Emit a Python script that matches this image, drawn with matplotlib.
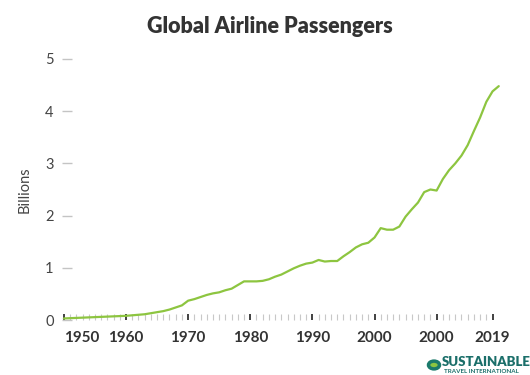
import matplotlib.pyplot as plt
from matplotlib.patches import Circle

plt.rcParams['font.family'] = ['Lato', 'DejaVu Sans']

# passengers per year, billions
years = list(range(1950, 2021))
passengers = [0.03, 0.035, 0.04, 0.045, 0.05, 0.055, 0.06, 0.065, 0.07, 0.075,
              0.08, 0.09, 0.10, 0.11, 0.13, 0.15, 0.17, 0.20, 0.24, 0.28,
              0.37, 0.40, 0.44, 0.48, 0.51, 0.53, 0.57, 0.60, 0.67, 0.74,
              0.74, 0.74, 0.75, 0.78, 0.83, 0.87, 0.93, 0.99, 1.04, 1.08,
              1.10, 1.15, 1.12, 1.13, 1.13, 1.22, 1.30, 1.39, 1.45, 1.48,
              1.58, 1.76, 1.73, 1.73, 1.79, 1.98, 2.12, 2.25, 2.45, 2.50,
              2.48, 2.70, 2.87, 3.00, 3.15, 3.35, 3.62, 3.88, 4.18, 4.38,
              4.48]

major_ticks = [1950, 1960, 1970, 1980, 1990, 2000, 2010, 2019]
major_labels = ['1950', '1960', '1970', '1980', '1990', '2000', '2000', '2019']
minor_ticks = list(range(1950, 2020))
y_ticks = [0, 1, 2, 3, 4, 5]

fig = plt.figure(figsize=(5.3, 3.75), dpi=100)
ax = fig.add_axes([62 / 530, 55 / 375, 438 / 530, 261 / 375])

ax.plot(years, passengers, color='#8dc540', lw=1.6, solid_capstyle='round',
        zorder=3)

ax.set_xlim(1949.7, 2020.2)
ax.set_ylim(0, 5)

for s in ax.spines.values():
    s.set_visible(False)

ax.set_xticks(major_ticks)
ax.set_xticklabels(major_labels)
ax.set_xticks(minor_ticks, minor=True)
ax.tick_params(axis='x', which='major', direction='in', length=4.5, width=1.3,
               color='#333333', pad=8, labelsize=11, labelcolor='#333333')
ax.tick_params(axis='x', which='minor', direction='in', length=4.5, width=0.8,
               color='#c8c8c8')
for lbl in ax.get_xticklabels():
    lbl.set_fontweight('bold')
ax.get_xticklabels()[0].set_horizontalalignment('left')

ax.set_yticks(y_ticks)
ax.tick_params(axis='y', direction='in', length=7.5, width=1, color='#c4c4c4',
               pad=6, labelsize=10.5, labelcolor='#444444')

ax.set_ylabel('Billions', fontsize=10.5, color='#444444', labelpad=10)

fig.text(0.51, 0.93, 'Global Airline Passengers', ha='center', va='center',
         fontsize=15.5, fontweight='heavy', color='#333333')

# logo at bottom right
fig.patches.append(Circle((434 / 530, 10 / 375), 5.5 / 530, transform=fig.transFigure,
                          facecolor='#8dc540', edgecolor='#1b7a6b', lw=2.5))
fig.text(442 / 530, 7 / 375, 'SUSTAINABLE', ha='left', va='bottom',
         fontsize=9.5, fontweight='heavy', color='#1b6f6a')
fig.text(444 / 530, 1 / 375, 'TRAVEL INTERNATIONAL', ha='left', va='bottom',
         fontsize=4.5, fontweight='bold', color='#1b6f6a')

fig.savefig('out.png', dpi=100)
